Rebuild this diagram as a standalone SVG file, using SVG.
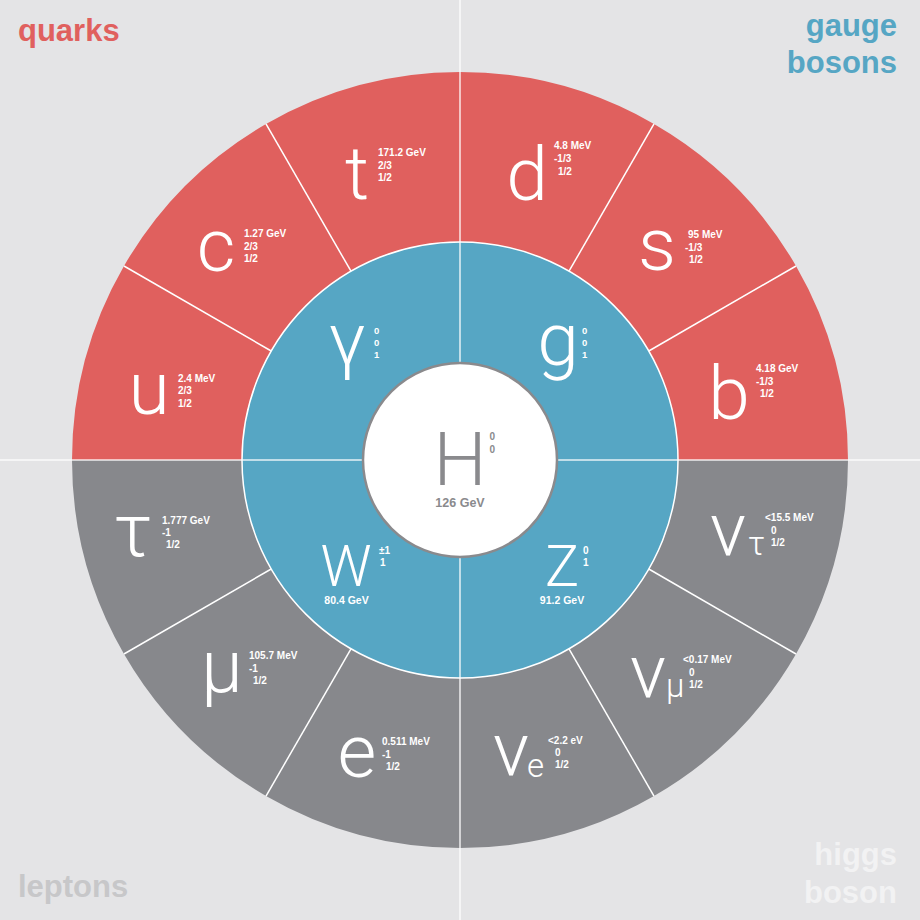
<svg xmlns="http://www.w3.org/2000/svg" width="920" height="920" viewBox="0 0 920 920">
<style>
.q{fill:#E0605E}
.l{fill:#87888C}
.b{fill:#56A6C4}
.sym{font-family:Roboto,"Open Sans","Liberation Sans",sans-serif;font-weight:300;font-size:75px;fill:#fff}
.sub{font-family:Roboto,"Open Sans","Liberation Sans",sans-serif;font-weight:300;font-size:33px;fill:#fff}
.d{font-family:"Liberation Sans",Arial,sans-serif;font-weight:bold;font-size:10px;fill:#fff}
.m{font-family:"Liberation Sans",Arial,sans-serif;font-weight:bold;font-size:10.5px;fill:#fff;text-anchor:middle}
.cat{font-family:"Liberation Sans",Arial,sans-serif;font-weight:bold;font-size:31px}
.sep{stroke:#fff;stroke-width:1.5;fill:none}
</style>
<rect width="920" height="920" fill="#E4E4E6"/>

<g id="label-quarks"><text class="cat" x="18" y="41" fill="#E0605E">quarks</text></g>
<g id="label-gauge"><text class="cat" x="897" y="36" fill="#56A6C4" text-anchor="end">gauge</text><text class="cat" x="897" y="73" fill="#56A6C4" text-anchor="end">bosons</text></g>
<g id="label-leptons"><text class="cat" x="18" y="897" fill="#C7C7C9">leptons</text></g>
<g id="label-higgs"><text class="cat" x="897" y="865" fill="#F2F2F3" text-anchor="end">higgs</text><text class="cat" x="897" y="903" fill="#F2F2F3" text-anchor="end">boson</text></g>

<g id="u"><path class="q" d="M123.982,266 A388,388 0 0 0 72,460 L242,460 A218,218 0 0 1 271.207,351 Z"/>
<text class="sym" x="149" y="414" text-anchor="middle">u</text>
<text class="d" x="178" y="381.5">2.4 MeV</text><text class="d" x="178" y="394">2/3</text><text class="d" x="178" y="406.5">1/2</text></g>

<g id="c"><path class="q" d="M266,123.982 A388,388 0 0 0 123.982,266 L271.207,351 A218,218 0 0 1 351,271.207 Z"/>
<text class="sym" x="216" y="271" text-anchor="middle">c</text>
<text class="d" x="244" y="237">1.27 GeV</text><text class="d" x="244" y="249.5">2/3</text><text class="d" x="244" y="262">1/2</text></g>

<g id="t"><path class="q" d="M460,72 A388,388 0 0 0 266,123.982 L351,271.207 A218,218 0 0 1 460,242 Z"/>
<text class="sym" x="357" y="199" text-anchor="middle">t</text>
<text class="d" x="378" y="156">171.2 GeV</text><text class="d" x="378" y="168.5">2/3</text><text class="d" x="378" y="181">1/2</text></g>

<g id="d"><path class="q" d="M654,123.982 A388,388 0 0 0 460,72 L460,242 A218,218 0 0 1 569,271.207 Z"/>
<text class="sym" x="527" y="200" text-anchor="middle">d</text>
<text class="d" x="554" y="149">4.8 MeV</text><text class="d" x="554" y="162">-1/3</text><text class="d" x="558" y="175">1/2</text></g>

<g id="s"><path class="q" d="M796.018,266 A388,388 0 0 0 654,123.982 L569,271.207 A218,218 0 0 1 648.793,351 Z"/>
<text class="sym" x="657" y="270" text-anchor="middle">s</text>
<text class="d" x="688" y="238">95 MeV</text><text class="d" x="685" y="250.5">-1/3</text><text class="d" x="689" y="263">1/2</text></g>

<g id="b"><path class="q" d="M848,460 A388,388 0 0 0 796.018,266 L648.793,351 A218,218 0 0 1 678,460 Z"/>
<text class="sym" x="729" y="419" text-anchor="middle">b</text>
<text class="d" x="756" y="372">4.18 GeV</text><text class="d" x="756" y="384.5">-1/3</text><text class="d" x="760" y="397">1/2</text></g>

<g id="tau"><path class="l" d="M72,460 A388,388 0 0 0 123.982,654 L271.207,569 A218,218 0 0 1 242,460 Z"/>
<text class="sym" x="133" y="556" text-anchor="middle">τ</text>
<text class="d" x="162" y="523.5">1.777 GeV</text><text class="d" x="162" y="536">-1</text><text class="d" x="166" y="548">1/2</text></g>

<g id="mu"><path class="l" d="M123.982,654 A388,388 0 0 0 266,796.018 L351,648.793 A218,218 0 0 1 271.207,569 Z"/>
<text class="sym" x="222" y="692" text-anchor="middle">μ</text>
<text class="d" x="249" y="659">105.7 MeV</text><text class="d" x="249" y="671.5">-1</text><text class="d" x="253" y="684">1/2</text></g>

<g id="e"><path class="l" d="M266,796.018 A388,388 0 0 0 460,848 L460,678 A218,218 0 0 1 351,648.793 Z"/>
<text class="sym" x="357" y="777" text-anchor="middle">e</text>
<text class="d" x="382" y="745">0.511 MeV</text><text class="d" x="382" y="757.5">-1</text><text class="d" x="386" y="770">1/2</text></g>

<g id="nu-e"><path class="l" d="M460,848 A388,388 0 0 0 654,796.018 L569,648.793 A218,218 0 0 1 460,678 Z"/>
<text class="sym" x="511" y="775" text-anchor="middle">ν</text><text class="sub" x="527" y="777">e</text>
<text class="d" x="548" y="743.5">&lt;2.2 eV</text><text class="d" x="555" y="756">0</text><text class="d" x="555" y="768">1/2</text></g>

<g id="nu-mu"><path class="l" d="M654,796.018 A388,388 0 0 0 796.018,654 L648.793,569 A218,218 0 0 1 569,648.793 Z"/>
<text class="sym" x="648" y="697" text-anchor="middle">ν</text><text class="sub" x="666" y="697">μ</text>
<text class="d" x="683" y="663">&lt;0.17 MeV</text><text class="d" x="689" y="675.5">0</text><text class="d" x="689" y="688">1/2</text></g>

<g id="nu-tau"><path class="l" d="M796.018,654 A388,388 0 0 0 848,460 L678,460 A218,218 0 0 1 648.793,569 Z"/>
<text class="sym" x="728" y="555" text-anchor="middle">ν</text><text class="sub" x="748" y="555">τ</text>
<text class="d" x="765" y="521">&lt;15.5 MeV</text><text class="d" x="771" y="533.5">0</text><text class="d" x="771" y="546">1/2</text></g>

<g id="photon"><path class="b" d="M460,242 A218,218 0 0 0 242,460 L363,460 A97,97 0 0 1 460,363 Z"/>
<text class="sym" x="347" y="365" text-anchor="middle">γ</text>
<text class="d" x="374" y="333.5" style="font-size:9.5px">0</text><text class="d" x="374" y="345.5" style="font-size:9.5px">0</text><text class="d" x="374" y="358" style="font-size:9.5px">1</text></g>

<g id="gluon"><path class="b" d="M678,460 A218,218 0 0 0 460,242 L460,363 A97,97 0 0 1 557,460 Z"/>
<text class="sym" x="558" y="365" text-anchor="middle">g</text>
<text class="d" x="582" y="333.5" style="font-size:9.5px">0</text><text class="d" x="582" y="345.5" style="font-size:9.5px">0</text><text class="d" x="582" y="358" style="font-size:9.5px">1</text></g>

<g id="W"><path class="b" d="M242,460 A218,218 0 0 0 460,678 L460,557 A97,97 0 0 1 363,460 Z"/>
<text class="sym" x="346" y="586" text-anchor="middle" style="font-size:57px">W</text>
<text class="d" x="379" y="554">±1</text><text class="d" x="380" y="566">1</text>
<text class="m" x="346.5" y="604">80.4 GeV</text></g>

<g id="Z"><path class="b" d="M460,678 A218,218 0 0 0 678,460 L557,460 A97,97 0 0 1 460,557 Z"/>
<text class="sym" x="562" y="586" text-anchor="middle" style="font-size:57px">Z</text>
<text class="d" x="583" y="554">0</text><text class="d" x="583" y="566">1</text>
<text class="m" x="562" y="604">91.2 GeV</text></g>

<g id="connectors">
<line class="sep" x1="460" y1="0" x2="460" y2="920" stroke-opacity="0.85"/>
<line class="sep" x1="0" y1="460" x2="920" y2="460" stroke-opacity="0.85"/>
<circle class="sep" cx="460" cy="460" r="218"/>
<line class="sep" x1="271.207" y1="351" x2="123.982" y2="266"/>
<line class="sep" x1="351" y1="271.207" x2="266" y2="123.982"/>
<line class="sep" x1="569" y1="271.207" x2="654" y2="123.982"/>
<line class="sep" x1="648.793" y1="351" x2="796.018" y2="266"/>
<line class="sep" x1="271.207" y1="569" x2="123.982" y2="654"/>
<line class="sep" x1="351" y1="648.793" x2="266" y2="796.018"/>
<line class="sep" x1="569" y1="648.793" x2="654" y2="796.018"/>
<line class="sep" x1="648.793" y1="569" x2="796.018" y2="654"/>
</g>

<g id="higgs">
<circle cx="460" cy="460" r="97" fill="#fff" stroke="#8A8A8D" stroke-width="2.5"/>
<text class="sym" x="460" y="485" text-anchor="middle" style="fill:#8A8A8D">H</text>
<text class="d" x="489.5" y="440" style="fill:#8A8A8D">0</text><text class="d" x="489.5" y="453" style="fill:#8A8A8D">0</text>
<text class="m" x="460" y="507" style="fill:#8A8A8D;font-size:12.5px">126 GeV</text>
</g>
</svg>
